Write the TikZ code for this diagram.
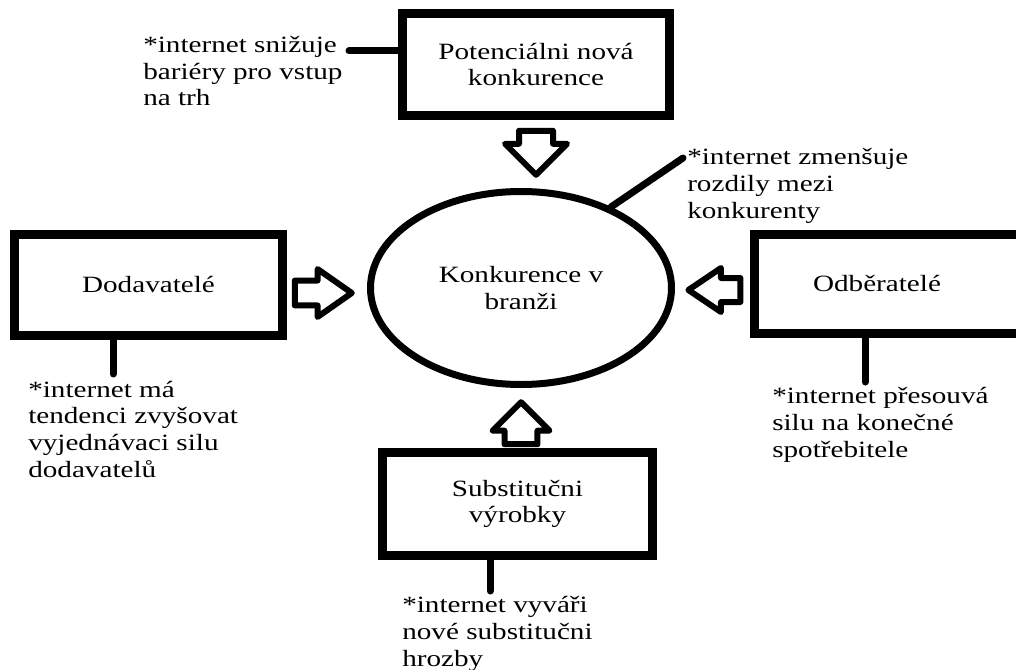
\documentclass[tikz,border=0pt]{standalone}
\usepackage{fontspec}
\setmainfont{Liberation Serif}[FakeStretch=1.25]
\usepackage{tikz}
\usetikzlibrary{positioning,calc,shapes.geometric,shapes.arrows}

\begin{document}
\begin{tikzpicture}[
    x=0.75pt, y=-0.75pt,
    font=\fontsize{17.5pt}{20pt}\selectfont,
    box/.style={draw, line width=6.75pt, align=center, inner sep=0pt},
    lead/.style={line width=5.25pt, line cap=round},
    note/.style={align=left, inner sep=0pt, anchor=west},
    barrow/.style n args={4}{single arrow, draw, line width=4.5pt, line join=round,
        inner xsep=0pt, inner ysep=#1, single arrow head extend=#2,
        single arrow tip angle=#3, minimum height=#4, anchor=tip},
]
    \clip (0,0) rectangle (1016,670);

    % the five forces
    \node[box, minimum width=200.25pt, minimum height=76.5pt] (potkon) at (536,64.5) {Potenciálni nová\\konkurence};
    \node[box, minimum width=201pt, minimum height=75.75pt] (dod) at (148.5,285) {Dodavatelé};
    \node[box, minimum width=258.75pt, minimum height=74.25pt] (odb) at (927,284) {};
    \node (odbtext) at (877,283) {Odběratelé};
    \node[box, minimum width=202.5pt, minimum height=77.25pt] (sub) at (517.5,504) {Substitučni\\výrobky};
    \node[ellipse, draw, line width=5.25pt, inner sep=0pt, align=center,
        minimum width=225.75pt, minimum height=144.75pt] (konk) at (521,288) {Konkurence v\\branži};

    % block arrows into the circle
    \node[barrow={10.5pt}{10.5pt}{90}{33pt}, rotate=-90] (aTop) at (536,179) {};
    \node[barrow={7.1pt}{8.6pt}{70}{42.75pt}] (aDod) at (357,293) {};
    \node[barrow={6.75pt}{7.5pt}{68}{39pt}, rotate=180] (aOdb) at (683,290) {};
    \node[barrow={10.1pt}{9pt}{90}{31.5pt}, rotate=90] (aSub) at (521,398) {};

    % notes
    \coordinate (nTop) at (349,51);
    \coordinate (nKonk) at (683,158);
    \coordinate (nDod) at (113,374);
    \coordinate (nOdb) at (865,382);
    \coordinate (nSub) at (490,591);
    \draw[lead] (nTop) -- (nTop -| potkon.west);
    \draw[lead] (konk.42) -- (nKonk);
    \draw[lead] (nDod |- dod.south) -- (nDod);
    \draw[lead] (nOdb |- odb.south) -- (nOdb);
    \draw[lead] (nSub |- sub.south) -- (nSub);

    \node[note] (tTop) at (143,71) {*internet snižuje\\bariéry pro vstup\\na trh};
    \node[note] (tKonk) at (687,186) {*internet zmenšuje\\rozdily mezi\\konkurenty};
    \node[note] (tDod) at (28,429) {*internet má\\tendenci zvyšovat\\vyjednávaci silu\\dodavatelů};
    \node[note] (tOdb) at (772,425) {*internet přesouvá\\silu na konečné\\spotřebitele};
    \node[note] (tSub) at (402,634) {*internet vyváři\\nové substitučni\\hrozby};
\end{tikzpicture}
\end{document}
